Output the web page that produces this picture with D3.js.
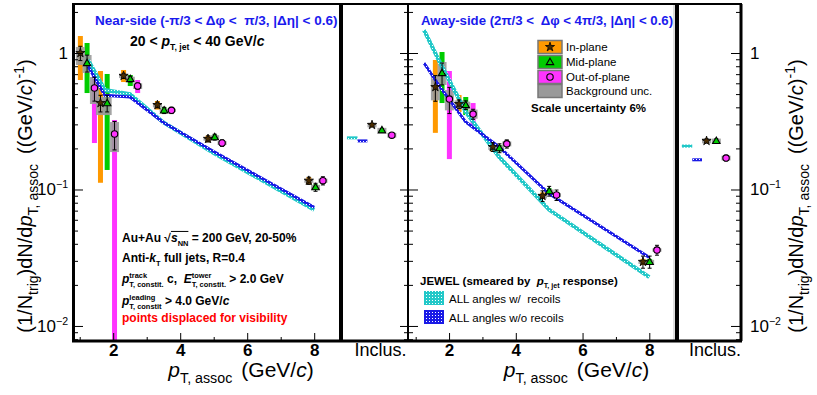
<!DOCTYPE html>
<html>
<head>
<meta charset="utf-8">
<script src="https://cdn.jsdelivr.net/npm/d3@7"></script>
<style>
  body { margin: 0; background: #fff; }
  text { white-space: pre; }
</style>
</head>
<body>
<div id="chart"></div>
<script>
// ---- data ----
var seriesNames = ["In-plane", "Mid-plane", "Out-of-plane"];

var nearBins = [1.22, 1.82, 2.51, 3.52, 5.03, 8.04];
var nearIn   = [1.0, 0.43, 0.68, 0.416, 0.235, 0.116];
var nearMid  = [0.845, 0.43, 0.645, 0.38, 0.242, 0.104];
var nearOut  = [0.554, 0.255, 0.573, 0.38, 0.219, 0.116];
var nearInStat  = [0.12, 0.06, 0.03, 0.02, 0.012, 0.007];
var nearMidStat = [0.12, 0.06, 0.03, 0.02, 0.012, 0.007];
var nearOutStat = [0.11, 0.06, 0.03, 0.02, 0.012, 0.008];
var nearInSys  = [[0.634, 1.332], [0.112, 0.738], [0.613, 0.751], [0.385, 0.445], [0.222, 0.248], [0.109, 0.123]];
var nearMidSys = [[0.509, 1.184], [0.139, 0.702], [0.573, 0.69], [0.36, 0.40], [0.232, 0.252], [0.099, 0.109]];
var nearOutSys = [[0.219, 0.678], [0.005, 0.323], [0.509, 0.634], [0.36, 0.40], [0.21, 0.23], [0.11, 0.122]];
var nearInBkg  = [[0.817, 1.106], [0.351, 0.476], [0.655, 0.705], [0.40, 0.43], [0.228, 0.242], [0.112, 0.12]];
var nearMidBkg = [[0.714, 0.967], [0.351, 0.476], [0.62, 0.67], [0.37, 0.39], [0.235, 0.25], [0.1, 0.108]];
var nearOutBkg = [[0.423, 0.667], [0.188, 0.312], [0.545, 0.6], [0.37, 0.39], [0.212, 0.226], [0.112, 0.12]];

var awayBins = [1.79, 2.5, 3.51, 5.0, 8.01];
var awayIn   = [0.563, 0.423, 0.205, 0.0897, 0.0295];
var awayMid  = [0.714, 0.416, 0.201, 0.0974, 0.0295];
var awayOut  = [0.46, 0.357, 0.216, 0.0911, 0.036];
var awayInStat  = [0.12, 0.03, 0.015, 0.008, 0.003];
var awayMidStat = [0.13, 0.03, 0.015, 0.008, 0.003];
var awayOutStat = [0.10, 0.03, 0.015, 0.008, 0.003];
var awayInSys  = [[0.26, 0.889], [0.37, 0.492], [0.19, 0.22], [0.085, 0.095], [0.028, 0.031]];
var awayMidSys = [[0.43, 1.017], [0.351, 0.476], [0.19, 0.212], [0.093, 0.102], [0.028, 0.031]];
var awayOutSys = [[0.167, 0.738], [0.297, 0.43], [0.205, 0.228], [0.087, 0.095], [0.034, 0.038]];
var awayInBkg  = [[0.45, 0.69], [0.39, 0.45], [0.195, 0.215], [0.086, 0.093], [0.0285, 0.0305]];
var awayMidBkg = [[0.583, 0.859], [0.39, 0.44], [0.192, 0.21], [0.094, 0.1], [0.0285, 0.0305]];
var awayOutBkg = [[0.38, 0.535], [0.33, 0.385], [0.207, 0.225], [0.088, 0.094], [0.035, 0.037]];

var nearIncl = [0.297, 0.272, 0.25];
var awayIncl = [0.227, 0.227, 0.170];
var inclStat = [0.008, 0.008, 0.008];

// JEWEL
var modelPt = [1.25, 1.75, 2.5, 3.5, 5, 8];
var nearRecoil   = [0.89, 0.535, 0.50, 0.31, 0.185, 0.071];
var nearNoRecoil = [0.80, 0.49, 0.476, 0.31, 0.19, 0.074];
var awayRecoil   = [1.47, 0.83, 0.37, 0.173, 0.071, 0.0228];
var awayNoRecoil = [0.845, 0.554, 0.312, 0.205, 0.093, 0.0318];
var nearInclModel = [0.239, 0.227];
var awayInclModel = [0.208, 0.165];

var xMajor = [2, 4, 6, 8], xMinor = [1, 3, 5, 7];
var yMajor = [0.01, 0.1, 1];
var yLabels = [["10", "\u22122"], ["10", "\u22121"], ["1", ""]];

// ---- layout ----
var W = 817, H = 395, yTop = 4, yBot = 341;
var font = "'Liberation Sans', Arial, Helvetica, sans-serif";
var colors = ["#ff9900", "#00cc00", "#ff33ff"];
var shift = [-0.2, 0, 0.22];
var inclPos = [0.47, 0.62, 0.77];

var panels = [
  {x0: 73, x1: 341, i1: 407},
  {x0: 409, x1: 676, i1: 741}
];

var svg = d3.select("#chart").append("svg")
    .attr("width", W).attr("height", H)
    .attr("font-family", font);

var defs = svg.append("defs");
function pat(id, col) {
  var p = defs.append("pattern").attr("id", id).attr("width", 3).attr("height", 3)
      .attr("patternUnits", "userSpaceOnUse");
  p.append("rect").attr("width", 3).attr("height", 3).attr("fill", col);
  p.append("rect").attr("width", 1).attr("height", 1).attr("fill", "#fff");
}
pat("pc", "#22c8c8");
pat("pb", "#1a1ae6");

var y = d3.scaleLog().domain([0.00776, 2.286]).range([yBot, yTop]);

// rich text with sub/superscripts
function rich(parent, x, yy, segs, o) {
  var g = parent.append("g");
  var cx = 0, sz = o.size, ss = sz * (o.ratio || 0.62);
  function put(t, dy, size, it) {
    var el = g.append("text").attr("x", cx).attr("y", dy)
      .attr("font-size", size).attr("font-weight", o.weight || "normal")
      .attr("font-style", it ? "italic" : "normal")
      .attr("fill", o.fill || "#000").text(t);
    return el.node().getComputedTextLength();
  }
  segs.forEach(function(s) {
    if (typeof s === "string") s = {t: s};
    if (s.gap) cx += s.gap;
    var start = cx;
    if (s.t) cx += put(s.t, 0, sz, s.i);
    var w = 0;
    if (s.sup) w = Math.max(w, put(s.sup, -sz * 0.42, ss, false));
    if (s.sub) w = Math.max(w, put(s.sub, sz * 0.3, ss, false));
    cx += w;
    if (s.over) {
      g.append("line").attr("x1", start).attr("x2", cx)
        .attr("y1", -sz * 0.88).attr("y2", -sz * 0.88)
        .attr("stroke", o.fill || "#000").attr("stroke-width", 1);
    }
  });
  var off = o.anchor === "middle" ? -cx / 2 : o.anchor === "end" ? -cx : 0;
  g.attr("transform", "translate(" + x + "," + yy + ") rotate(" + (o.rot || 0) + ") translate(" + off + ",0)");
  return g;
}

var clip = defs.append("clipPath").attr("id", "plotclip");
clip.append("rect").attr("x", 73).attr("y", yTop).attr("width", 741 - 73).attr("height", yBot - yTop);

function drawPanel(p, bins, vals, stats, syss, bkgs, incl, rec, norec, inclModel) {
  var x = d3.scaleLinear().domain([0.8, 8.8]).range([p.x0, p.x1]);
  var xi = d3.scaleLinear().domain([0, 1]).range([p.x1, p.i1]);
  p.x = x; p.xi = xi;
  var g = svg.append("g").attr("clip-path", "url(#plotclip)");

  // systematic bars
  vals.forEach(function(v, s) {
    g.selectAll(null).data(bins).enter().append("rect")
      .attr("x", function(b) { return x(b + shift[s]) - 2.5; })
      .attr("width", 5)
      .attr("y", function(b, i) { return y(syss[s][i][1]); })
      .attr("height", function(b, i) { return y(syss[s][i][0]) - y(syss[s][i][1]); })
      .attr("fill", colors[s]);
  });
  // background uncertainty
  vals.forEach(function(v, s) {
    g.selectAll(null).data(bins).enter().append("rect")
      .attr("x", function(b) { return x(b + shift[s]) - 4.5; })
      .attr("width", 9)
      .attr("y", function(b, i) { return y(bkgs[s][i][1]); })
      .attr("height", function(b, i) { return y(bkgs[s][i][0]) - y(bkgs[s][i][1]); })
      .attr("fill", "#9a9a9a").attr("opacity", 0.9);
  });
  // inclusive background boxes
  g.selectAll(null).data(incl).enter().append("rect")
    .attr("x", function(d, i) { return xi(inclPos[i]) - 4.5; })
    .attr("width", 9)
    .attr("y", function(d) { return y(d * 1.04); })
    .attr("height", function(d) { return y(d * 0.96) - y(d * 1.04); })
    .attr("fill", "#9a9a9a").attr("opacity", 0.9);

  // JEWEL curves
  var line = d3.line().x(function(d, i) { return x(modelPt[i]); }).y(function(d) { return y(d); });
  g.append("path").attr("d", line(rec)).attr("fill", "none")
    .attr("stroke", "url(#pc)").attr("stroke-width", 4);
  g.append("path").attr("d", line(norec)).attr("fill", "none")
    .attr("stroke", "url(#pb)").attr("stroke-width", 3);
  g.append("rect").attr("x", xi(0.09)).attr("width", xi(0.25) - xi(0.09))
    .attr("y", y(inclModel[0]) - 1.5).attr("height", 3).attr("fill", "url(#pc)");
  g.append("rect").attr("x", xi(0.25)).attr("width", xi(0.4) - xi(0.25))
    .attr("y", y(inclModel[1]) - 1.5).attr("height", 3).attr("fill", "url(#pb)");

  // stat errors + markers
  vals.forEach(function(v, s) {
    var pts = bins.map(function(b, i) { return {px: x(b + shift[s]), v: v[i], e: stats[s][i]}; });
    pts.push({px: xi(inclPos[s]), v: incl[s], e: inclStat[s]});
    pts.forEach(function(d) {
      var y1 = y(d.v + d.e), y2 = y(Math.max(d.v - d.e, 0.001));
      g.append("line").attr("x1", d.px).attr("x2", d.px).attr("y1", y1).attr("y2", y2)
        .attr("stroke", "#000").attr("stroke-width", 1);
      [y1, y2].forEach(function(yy) {
        g.append("line").attr("x1", d.px - 2).attr("x2", d.px + 2).attr("y1", yy).attr("y2", yy)
          .attr("stroke", "#000").attr("stroke-width", 1);
      });
      marker(g, s, d.px, y(d.v));
    });
  });
}

function marker(g, s, px, py) {
  if (s === 0) {
    g.append("path").attr("d", d3.symbol().type(d3.symbolStar).size(26)())
      .attr("transform", "translate(" + px + "," + py + ")")
      .attr("fill", "#4a2c00").attr("stroke", "#000").attr("stroke-width", 0.8);
  } else if (s === 1) {
    g.append("path").attr("d", d3.symbol().type(d3.symbolTriangle).size(24)())
      .attr("transform", "translate(" + px + "," + (py + 0.5) + ")")
      .attr("fill", colors[1]).attr("stroke", "#000").attr("stroke-width", 1.1);
  } else {
    g.append("circle").attr("cx", px).attr("cy", py).attr("r", 3.2)
      .attr("fill", colors[2]).attr("stroke", "#000").attr("stroke-width", 1.1);
  }
}

drawPanel(panels[0], nearBins, [nearIn, nearMid, nearOut],
  [nearInStat, nearMidStat, nearOutStat], [nearInSys, nearMidSys, nearOutSys],
  [nearInBkg, nearMidBkg, nearOutBkg], nearIncl, nearRecoil, nearNoRecoil, nearInclModel);
drawPanel(panels[1], awayBins, [awayIn, awayMid, awayOut],
  [awayInStat, awayMidStat, awayOutStat], [awayInSys, awayMidSys, awayOutSys],
  [awayInBkg, awayMidBkg, awayOutBkg], awayIncl, awayRecoil, awayNoRecoil, awayInclModel);

// ---- axes ----
var yMinor = [];
[0.001, 0.01, 0.1, 1].forEach(function(d) {
  for (var k = 2; k <= 9; k++) { var v = d * k; if (v > 0.00776 && v < 2.286) yMinor.push(v); }
});

function yTicks(xpos, left, both) {
  [[yMajor, 10], [yMinor, 5]].forEach(function(t) {
    var ax = (left ? d3.axisLeft(y) : d3.axisRight(y)).tickValues(t[0]).tickSize(t[1]).tickFormat("");
    var a = svg.append("g").attr("transform", "translate(" + xpos + ",0)").call(ax);
    a.select(".domain").remove();
    a.selectAll("line").attr("stroke", "#000");
    if (both) a.selectAll("line").attr("x1", -t[1] * 0.8);
  });
}
yTicks(73, false, false);
yTicks(408, false, true);
yTicks(741, true, false);

panels.forEach(function(p) {
  [[xMajor, 8], [xMinor, 4]].forEach(function(t) {
    var a = svg.append("g").attr("transform", "translate(0," + yBot + ")")
      .call(d3.axisTop(p.x).tickValues(t[0]).tickSize(t[1]).tickFormat(""));
    a.select(".domain").remove();
    a.selectAll("line").attr("stroke", "#000");
  });
  var lab = svg.append("g").attr("transform", "translate(0," + yBot + ")")
    .call(d3.axisBottom(p.x).tickValues(xMajor).tickSize(0).tickPadding(3).tickFormat(d3.format("d")));
  lab.select(".domain").remove();
  lab.attr("font-size", 17).attr("font-family", font).attr("font-weight", "bold");
  svg.append("text").attr("x", p.xi(0.6)).attr("y", 356).attr("text-anchor", "middle")
    .attr("font-size", 18).text("Inclus.");
  var mid = (p.x0 + p.x1) / 2 + 34;
  rich(svg, mid, 377, [{t: "p", i: true, sub: "T, assoc"}, {gap: 9, t: "(GeV/"}, {t: "c", i: true}, ")"],
    {size: 21, ratio: 0.68, anchor: "middle"});
});

// y tick labels
yMajor.forEach(function(v, i) {
  var L = yLabels[i];
  rich(svg, 68, y(v) + 6, [{t: L[0], sup: L[1]}], {size: 17, ratio: 0.62, anchor: "end"});
  rich(svg, 750, y(v) + 6, [{t: L[0], sup: L[1]}], {size: 17, ratio: 0.62});
});

// y titles
var ySegs = ["(1/N", {sub: "trig"}, ")dN/d", {t: "p", i: true, sub: "T, assoc"}, {gap: 10, t: "((GeV/"}, {t: "c", i: true}, ")", {sup: "-1"}, ")"];
rich(svg, 32, 196, ySegs, {size: 20, ratio: 0.7, anchor: "middle", rot: -90});
rich(svg, 803, 196, ySegs, {size: 20, ratio: 0.7, anchor: "middle", rot: -90});

// ---- frames ----
function ln(x1, y1, x2, y2, w, c) {
  svg.append("line").attr("x1", x1).attr("y1", y1).attr("x2", x2).attr("y2", y2)
    .attr("stroke", c || "#000").attr("stroke-width", w);
}
ln(674, yTop, 674, yBot, 1, "#bbb");
ln(72, yTop, 742, yTop, 2);
ln(72, yBot, 742, yBot, 3);
ln(73.5, yTop, 73.5, yBot, 3);
ln(341, yTop, 341, yBot, 4);
ln(408, yTop, 408, yBot, 2);
ln(677, yTop, 677, yBot, 4);
ln(741, yTop, 741, yBot, 3);

// ---- texts ----
var blue = "#1a1aee";
rich(svg, 95, 25, ["Near-side (-\u03c0/3 < \u0394\u03c6 <  \u03c0/3, |\u0394\u03b7| < 0.6)"], {size: 13.5, weight: "bold", fill: blue});
rich(svg, 130, 46, ["20 < ", {t: "p", i: true, sub: "T, jet"}, " < 40 GeV/", {t: "c", i: true}], {size: 14, weight: "bold"});
rich(svg, 421, 25, ["Away-side (2\u03c0/3 <  \u0394\u03c6 < 4\u03c0/3, |\u0394\u03b7| < 0.6)"], {size: 13.2, weight: "bold", fill: blue});

var tb = {size: 12, weight: "bold"};
rich(svg, 122, 242, ["Au+Au ", "\u221a", {t: "s", i: true, sub: "NN", over: true}, " = 200 GeV, 20-50%"], tb);
rich(svg, 122, 262, ["Anti-", {t: "k", i: true, sub: "T"}, " full jets, R=0.4"], tb);
rich(svg, 122, 283, [{t: "p", i: true, sup: "track", sub: "T, constit."}, " c,  ", {t: "E", i: true, sup: "tower", sub: "T, constit."}, " > 2.0 GeV"], tb);
rich(svg, 122, 305, [{t: "p", i: true, sup: "leading", sub: "T, constit"}, " > 4.0 GeV/", {t: "c", i: true}], tb);
rich(svg, 122, 322, ["points displaced for visibility"], {size: 12, weight: "bold", fill: "#ff0000"});

// legend (orientation)
var legY = [47, 62, 77, 91];
var legNames = seriesNames.concat(["Background unc."]);
var legFill = colors.concat(["#9a9a9a"]);
legY.forEach(function(yy, i) {
  svg.append("rect").attr("x", 538).attr("y", yy - 6.5).attr("width", 24).attr("height", 13)
    .attr("fill", legFill[i]).attr("stroke", "#777").attr("stroke-width", 1.5);
  if (i < 3) marker(svg, i, 550, yy);
  svg.append("text").attr("x", 566).attr("y", yy + 4).attr("font-size", 11.5).text(legNames[i]);
});
rich(svg, 531, 112, ["Scale uncertainty 6%"], {size: 11.5, weight: "bold"});

// JEWEL legend
rich(svg, 420, 285, ["JEWEL (smeared by  ", {t: "p", i: true, sub: "T, jet"}, " response)"], {size: 11.5, weight: "bold"});
svg.append("rect").attr("x", 424).attr("y", 291).attr("width", 20).attr("height", 14).attr("fill", "url(#pc)");
svg.append("text").attr("x", 449).attr("y", 303).attr("font-size", 11.5).text("ALL angles w/  recoils");
svg.append("rect").attr("x", 424).attr("y", 310).attr("width", 20).attr("height", 14).attr("fill", "url(#pb)");
svg.append("text").attr("x", 449).attr("y", 322).attr("font-size", 11.5).text("ALL angles w/o recoils");
</script>
</body>
</html>
